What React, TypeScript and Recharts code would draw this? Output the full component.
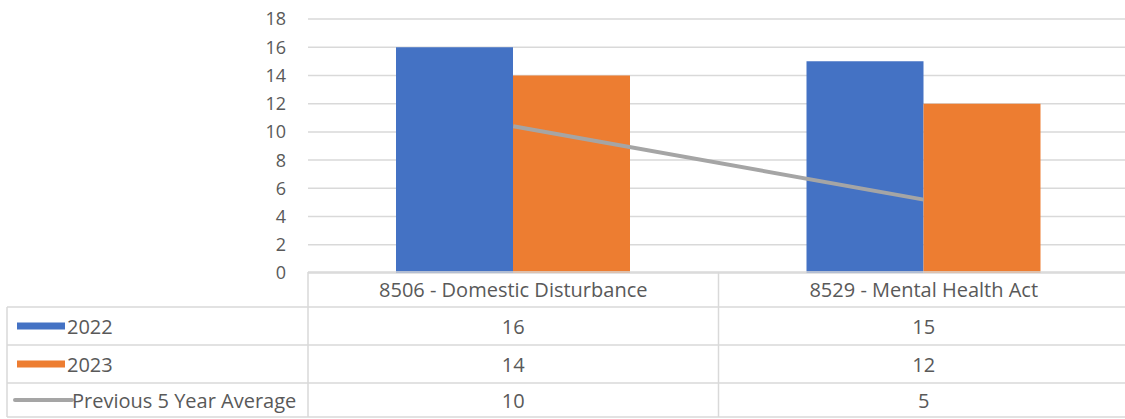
import React from "react";
import { ComposedChart, Bar, Line, XAxis, YAxis, CartesianGrid } from "recharts";

const categories = ["8506 - Domestic Disturbance", "8529 - Mental Health Act"];
const values2022 = [16, 15];
const values2023 = [14, 12];
const avgValues = [10.4, 5.2];
const avgTableLabels = ["10", "5"];
const yTicks = [0, 2, 4, 6, 8, 10, 12, 14, 16, 18];
const seriesNames = ["2022", "2023", "Previous 5 Year Average"];

const data = categories.map((c, i) => ({
  name: c,
  y2022: values2022[i],
  y2023: values2023[i],
  avg: avgValues[i],
}));

const W = 1125;
const H = 419;
const CHART_W = 1129;
const PLOT_LEFT = 308;
const PLOT_TOP = 19;
const PLOT_BOTTOM = 273;
const FONT = "'Open Sans', 'Noto Sans', sans-serif";
const TABLE_FS = 20;
const TEXT = "#595959";
const BORDER = "#D9D9D9";
const BLUE = "#4472C4";
const ORANGE = "#ED7D31";
const GRAY = "#A5A5A5";

const rowLines = [272, 307, 345, 383, 417];
const tableLeft = 7;

function DataTable() {
  const colW = (CHART_W - PLOT_LEFT) / categories.length;
  const rows = [
    { label: seriesNames[0], color: BLUE, kind: "bar", vals: values2022.map(String) },
    { label: seriesNames[1], color: ORANGE, kind: "bar", vals: values2023.map(String) },
    { label: seriesNames[2], color: GRAY, kind: "line", vals: avgTableLabels },
  ];
  return (
    <svg width={CHART_W} height={H} style={{ position: "absolute", left: 0, top: 0, pointerEvents: "none" }}>
      {rowLines.map((y, i) => (
        <line key={"h" + i} x1={i === 0 ? PLOT_LEFT : tableLeft} x2={CHART_W} y1={y} y2={y} stroke={BORDER} strokeWidth={1.5} />
      ))}
      <line x1={tableLeft} x2={tableLeft} y1={rowLines[1]} y2={rowLines[4]} stroke={BORDER} strokeWidth={1.5} />
      {categories.map((_, i) => (
        <line key={"v" + i} x1={PLOT_LEFT + i * colW} x2={PLOT_LEFT + i * colW} y1={rowLines[0]} y2={rowLines[4]} stroke={BORDER} strokeWidth={1.5} />
      ))}
      {categories.map((c, i) => (
        <text key={"c" + i} x={PLOT_LEFT + (i + 0.5) * colW} y={(rowLines[0] + rowLines[1]) / 2} textAnchor="middle" dominantBaseline="central" fontFamily={FONT} fontSize={TABLE_FS} fill={TEXT}>
          {c}
        </text>
      ))}
      {rows.map((r, ri) => {
        const cy = (rowLines[ri + 1] + rowLines[ri + 2]) / 2;
        return (
          <g key={"r" + ri}>
            {r.kind === "bar" ? (
              <rect x={17} y={cy - 3.5} width={48} height={7} fill={r.color} />
            ) : (
              <line x1={15} x2={72} y1={cy} y2={cy} stroke={r.color} strokeWidth={4} strokeLinecap="round" />
            )}
            <text x={r.kind === "bar" ? 67 : 72} y={cy} dominantBaseline="central" fontFamily={FONT} fontSize={TABLE_FS} fill={TEXT}>
              {r.label}
            </text>
            {r.vals.map((v, ci) => (
              <text key={ci} x={PLOT_LEFT + (ci + 0.5) * colW} y={cy} textAnchor="middle" dominantBaseline="central" fontFamily={FONT} fontSize={TABLE_FS} fill={TEXT}>
                {v}
              </text>
            ))}
          </g>
        );
      })}
    </svg>
  );
}

export default function App() {
  return (
    <div style={{ position: "relative", width: W, height: H, background: "#fff", overflow: "hidden" }}>
      <style>{"body{margin:0;background:#fff}"}</style>
      <ComposedChart
        width={CHART_W}
        height={H}
        data={data}
        margin={{ top: PLOT_TOP, right: 0, bottom: H - PLOT_BOTTOM, left: 0 }}
        barCategoryGap={88}
        barGap={0}
      >
        <CartesianGrid vertical={false} stroke={BORDER} strokeWidth={1.5} />
        <XAxis dataKey="name" hide />
        <YAxis
          width={PLOT_LEFT}
          domain={[0, 18]}
          ticks={yTicks}
          interval={0}
          axisLine={false}
          tickLine={false}
          tickSize={0}
          tickMargin={22}
          tick={{ fill: TEXT, fontSize: 18, fontFamily: FONT }}
        />
        <Bar dataKey="y2022" fill={BLUE} isAnimationActive={false} />
        <Bar dataKey="y2023" fill={ORANGE} isAnimationActive={false} />
        <Line dataKey="avg" type="linear" stroke={GRAY} strokeWidth={4} dot={false} isAnimationActive={false} />
      </ComposedChart>
      <DataTable />
    </div>
  );
}
